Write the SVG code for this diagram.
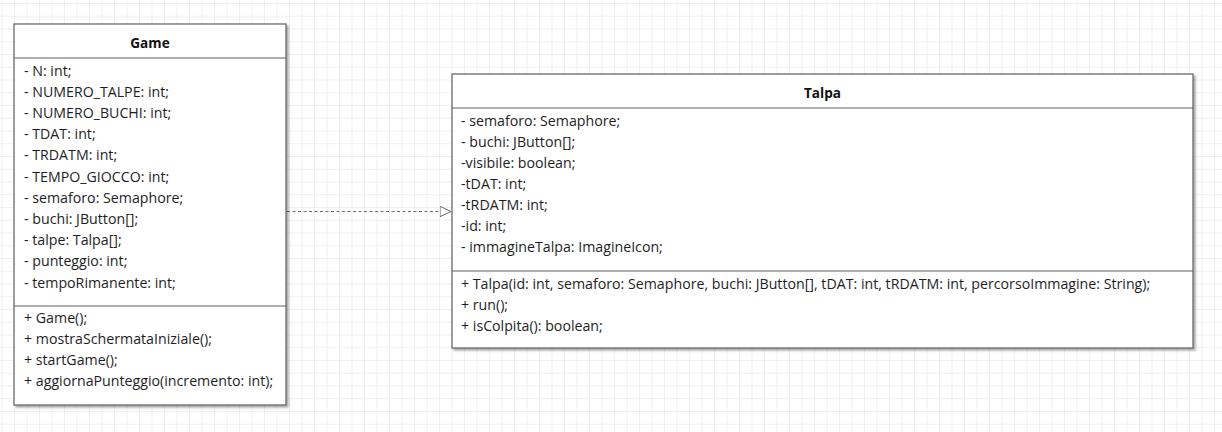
<svg xmlns="http://www.w3.org/2000/svg" width="1222" height="432" viewBox="0 0 1222 432">
  <style>
    .box { fill: #ffffff; stroke: #5f5f5f; stroke-width: 1.2; }
    .sep { stroke: #5f5f5f; stroke-width: 1.2; }
    .t { font-family: "Open Sans", "Noto Sans", "Liberation Sans", sans-serif; font-size: 14.2px; fill: #1e1e1e; }
    .title { font-family: "Open Sans", "Noto Sans", "Liberation Sans", sans-serif; font-size: 13.6px; font-weight: bold; fill: #111; text-anchor: middle; }
    .dep { stroke: #6a6a6a; stroke-width: 1; fill: none; stroke-dasharray: 3 2.5; }
  </style>
  <defs>
    <pattern id="grid" x="1.5" y="3" width="12.5" height="12.75" patternUnits="userSpaceOnUse">
      <path d="M 0 0 H 12.5 M 0 0 V 12.75" fill="none" stroke="#e2e2e2" stroke-width="1"/>
    </pattern>
    <filter id="shadow" x="-5%" y="-5%" width="115%" height="115%">
      <feDropShadow dx="2" dy="2" stdDeviation="1.2" flood-color="#000" flood-opacity="0.35"/>
    </filter>
    <marker id="hollow" viewBox="0 0 12 12" refX="12" refY="6" markerWidth="12" markerHeight="12" markerUnits="userSpaceOnUse" orient="auto">
      <path d="M 0.5 0.8 L 11.5 6 L 0.5 11.2 Z" fill="#ffffff" stroke="#6a6a6a" stroke-width="1"/>
    </marker>
  </defs>
  <rect x="0" y="0" width="1222" height="432" fill="#ffffff"/>
  <rect x="0" y="0" width="1222" height="432" fill="url(#grid)"/>

  <g id="connectors">
    <path class="dep" d="M 287 211.5 H 451.5" marker-end="url(#hollow)"/>
  </g>

  <g id="game">
    <rect class="box" x="14" y="24" width="272" height="381" filter="url(#shadow)"/>
    <line class="sep" x1="14" y1="58" x2="286" y2="58"/>
    <line class="sep" x1="14" y1="306" x2="286" y2="306"/>
    <text class="title" x="150" y="47.5">Game</text>
    <text class="t" x="24" y="75.5">- N: int;</text>
    <text class="t" x="24" y="96.7">- NUMERO_TALPE: int;</text>
    <text class="t" x="24" y="117.9">- NUMERO_BUCHI: int;</text>
    <text class="t" x="24" y="139.1">- TDAT: int;</text>
    <text class="t" x="24" y="160.3">- TRDATM: int;</text>
    <text class="t" x="24" y="181.5">- TEMPO_GIOCCO: int;</text>
    <text class="t" x="24" y="202.7">- semaforo: Semaphore;</text>
    <text class="t" x="24" y="223.9">- buchi: JButton[];</text>
    <text class="t" x="24" y="245.1">- talpe: Talpa[];</text>
    <text class="t" x="24" y="266.3">- punteggio: int;</text>
    <text class="t" x="24" y="287.5">- tempoRimanente: int;</text>
    <text class="t" x="24" y="322.5">+ Game();</text>
    <text class="t" x="24" y="343.8">+ mostraSchermataIniziale();</text>
    <text class="t" x="24" y="365.1">+ startGame();</text>
    <text class="t" x="24" y="386.4">+ aggiornaPunteggio(incremento: int);</text>
  </g>

  <g id="talpa">
    <rect class="box" x="452" y="74" width="741" height="274" filter="url(#shadow)"/>
    <line class="sep" x1="452" y1="108" x2="1193" y2="108"/>
    <line class="sep" x1="452" y1="271" x2="1193" y2="271"/>
    <text class="title" x="822.5" y="97.5">Talpa</text>
    <text class="t" x="461" y="125.5">- semaforo: Semaphore;</text>
    <text class="t" x="461" y="146.5">- buchi: JButton[];</text>
    <text class="t" x="461" y="167.5">-visibile: boolean;</text>
    <text class="t" x="461" y="188.5">-tDAT: int;</text>
    <text class="t" x="461" y="209.5">-tRDATM: int;</text>
    <text class="t" x="461" y="230.5">-id: int;</text>
    <text class="t" x="461" y="251.5">- immagineTalpa: ImagineIcon;</text>
    <text class="t" x="461" y="288.5">+ Talpa(id: int, semaforo: Semaphore, buchi: JButton[], tDAT: int, tRDATM: int, percorsoImmagine: String);</text>
    <text class="t" x="461" y="309.5">+ run();</text>
    <text class="t" x="461" y="330.5">+ isColpita(): boolean;</text>
  </g>
</svg>
